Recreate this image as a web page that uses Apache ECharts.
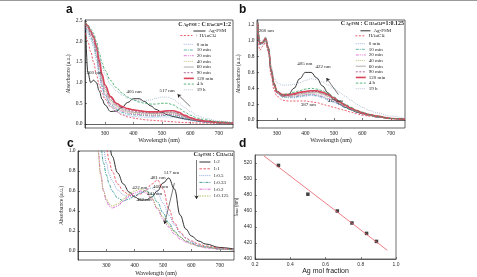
<!DOCTYPE html>
<html>
<head>
<meta charset="utf-8">
<script src="https://cdn.jsdelivr.net/npm/echarts@6/dist/echarts.min.js"></script>
<style>
html, body { margin: 0; background: #fff; }
#main { width: 477px; height: 277px; }
</style>
</head>
<body>
<div id="main"></div>
<script>
// wavelengths (nm) sampled for panels a and b
var wlAB = [232,240,250,260,270,280,290,300,320,340,360,380,400,420,440,460,480,500,520,540,560,580,600,625,650,700,750];

// panel a : C Ag-PSM : C HAuCl4 = 1:2
var aAgPSM  = [2.40,1.25,1.00,1.06,1.00,0.80,0.60,0.46,0.30,0.31,0.40,0.52,0.61,0.61,0.54,0.44,0.35,0.28,0.22,0.18,0.15,0.12,0.10,0.07,0.05,0.03,0.02];
var aHAuCl4 = [2.20,2.00,1.75,1.50,1.20,0.95,0.75,0.60,0.42,0.30,0.22,0.17,0.14,0.12,0.10,0.09,0.08,0.07,0.06,0.05,0.04,0.03,0.03,0.02,0.02,0.01,0.01];
var a0min   = [2.30,2.20,2.05,1.88,1.55,1.15,0.85,0.64,0.42,0.30,0.24,0.20,0.18,0.17,0.16,0.16,0.16,0.17,0.17,0.16,0.14,0.11,0.08,0.06,0.04,0.02,0.01];
var a10min  = [2.33,2.25,2.12,1.95,1.65,1.25,0.92,0.70,0.47,0.35,0.28,0.24,0.22,0.21,0.20,0.19,0.19,0.20,0.21,0.21,0.18,0.14,0.10,0.07,0.05,0.02,0.01];
var a20min  = [2.35,2.28,2.15,2.00,1.72,1.33,0.98,0.74,0.50,0.38,0.31,0.27,0.24,0.23,0.22,0.21,0.21,0.22,0.23,0.23,0.20,0.16,0.11,0.08,0.05,0.03,0.01];
var a40min  = [2.38,2.30,2.18,2.05,1.78,1.40,1.05,0.80,0.54,0.41,0.33,0.29,0.26,0.25,0.24,0.23,0.23,0.24,0.25,0.25,0.22,0.17,0.12,0.09,0.06,0.03,0.02];
var a60min  = [2.40,2.33,2.20,2.08,1.82,1.45,1.10,0.85,0.58,0.44,0.36,0.31,0.28,0.27,0.26,0.25,0.25,0.26,0.27,0.27,0.23,0.18,0.13,0.09,0.06,0.03,0.02];
var a90min  = [2.40,2.35,2.22,2.10,1.85,1.50,1.15,0.90,0.62,0.47,0.39,0.34,0.31,0.29,0.28,0.27,0.27,0.28,0.29,0.29,0.25,0.19,0.14,0.10,0.07,0.04,0.02];
var a120min = [2.45,2.38,2.25,2.12,1.90,1.55,1.20,0.95,0.66,0.50,0.42,0.37,0.34,0.32,0.30,0.29,0.29,0.30,0.32,0.32,0.28,0.21,0.15,0.10,0.07,0.04,0.02];
var a4h     = [2.45,2.40,2.30,2.20,2.00,1.72,1.48,1.30,1.05,0.88,0.75,0.65,0.58,0.53,0.50,0.48,0.48,0.50,0.50,0.46,0.38,0.29,0.21,0.14,0.10,0.05,0.02];
var a19h    = [2.40,2.35,2.25,2.15,1.95,1.65,1.40,1.20,0.95,0.80,0.70,0.63,0.58,0.56,0.56,0.58,0.62,0.65,0.65,0.60,0.50,0.40,0.30,0.20,0.14,0.07,0.03];

// panel b : C Ag-PSM : C HAuCl4 = 1:0.125
var bAgPSM  = [1.25,0.97,0.97,1.02,0.90,0.62,0.45,0.36,0.30,0.32,0.40,0.52,0.60,0.60,0.53,0.43,0.34,0.26,0.20,0.16,0.13,0.10,0.08,0.06,0.04,0.02,0.01];
var bHAuCl4 = [1.10,0.88,0.93,0.98,0.85,0.55,0.38,0.30,0.25,0.24,0.24,0.24,0.24,0.23,0.22,0.20,0.18,0.16,0.14,0.12,0.10,0.08,0.06,0.05,0.04,0.02,0.01];
var b0min   = [1.20,0.95,0.96,1.00,0.88,0.60,0.43,0.34,0.29,0.28,0.28,0.29,0.30,0.31,0.30,0.28,0.25,0.22,0.19,0.16,0.13,0.10,0.08,0.06,0.04,0.02,0.01];
var b10min  = [1.20,0.95,0.96,1.00,0.88,0.60,0.43,0.34,0.29,0.29,0.29,0.30,0.31,0.32,0.31,0.29,0.26,0.23,0.20,0.16,0.13,0.10,0.08,0.06,0.04,0.02,0.01];
var b20min  = [1.21,0.95,0.97,1.01,0.89,0.61,0.44,0.34,0.30,0.30,0.30,0.31,0.32,0.33,0.32,0.30,0.27,0.24,0.20,0.17,0.14,0.11,0.08,0.06,0.04,0.02,0.01];
var b40min  = [1.21,0.96,0.97,1.01,0.89,0.61,0.44,0.35,0.30,0.30,0.31,0.32,0.33,0.34,0.34,0.32,0.29,0.25,0.21,0.17,0.14,0.11,0.09,0.06,0.04,0.02,0.01];
var b60min  = [1.22,0.96,0.97,1.02,0.90,0.62,0.45,0.35,0.31,0.31,0.32,0.33,0.34,0.35,0.35,0.33,0.30,0.26,0.22,0.18,0.15,0.11,0.09,0.06,0.04,0.02,0.01];
var b90min  = [1.22,0.96,0.98,1.02,0.90,0.62,0.45,0.36,0.31,0.31,0.32,0.34,0.35,0.36,0.36,0.34,0.31,0.27,0.22,0.18,0.15,0.12,0.09,0.07,0.05,0.02,0.01];
var b120min = [1.23,0.97,0.98,1.03,0.91,0.63,0.46,0.36,0.32,0.32,0.33,0.35,0.36,0.37,0.37,0.35,0.32,0.28,0.23,0.19,0.15,0.12,0.09,0.07,0.05,0.02,0.01];
var b4h     = [1.23,0.97,0.98,1.03,0.91,0.63,0.46,0.37,0.32,0.33,0.35,0.37,0.39,0.40,0.39,0.37,0.33,0.29,0.24,0.20,0.16,0.12,0.10,0.07,0.05,0.02,0.01];
var b19h    = [1.25,1.00,1.00,1.05,0.92,0.68,0.53,0.47,0.44,0.44,0.45,0.47,0.50,0.52,0.51,0.48,0.44,0.40,0.35,0.30,0.25,0.20,0.16,0.12,0.09,0.05,0.02];

// panel c : different Ag-PSM : HAuCl4 ratios
var wlC = [260,270,280,290,300,310,320,340,360,380,400,420,440,460,480,500,520,540,560,580,600,625,650,700,750];
var c1to2     = [2.30,2.00,1.72,1.48,1.27,1.08,0.95,0.78,0.67,0.59,0.54,0.51,0.51,0.54,0.60,0.68,0.73,0.62,0.36,0.22,0.15,0.10,0.07,0.035,0.02];
var c1to1     = [2.00,1.70,1.42,1.20,1.03,0.90,0.80,0.67,0.60,0.56,0.55,0.57,0.61,0.67,0.71,0.62,0.42,0.28,0.19,0.13,0.10,0.07,0.05,0.03,0.01];
var c1to05    = [1.80,1.50,1.22,1.02,0.88,0.77,0.70,0.61,0.56,0.54,0.55,0.58,0.61,0.63,0.59,0.48,0.36,0.26,0.18,0.13,0.09,0.06,0.04,0.02,0.01];
var c1to033   = [1.60,1.30,1.05,0.88,0.76,0.67,0.60,0.53,0.50,0.52,0.55,0.58,0.60,0.57,0.49,0.38,0.28,0.20,0.14,0.10,0.08,0.05,0.04,0.02,0.01];
var c1to02    = [1.35,1.05,0.78,0.60,0.50,0.45,0.43,0.45,0.50,0.55,0.58,0.60,0.58,0.52,0.42,0.32,0.24,0.17,0.12,0.09,0.07,0.05,0.03,0.02,0.01];
var c1to0125  = [1.30,1.00,0.75,0.60,0.52,0.47,0.45,0.47,0.52,0.57,0.60,0.62,0.60,0.53,0.43,0.34,0.26,0.19,0.14,0.10,0.07,0.05,0.04,0.02,0.01];

// panel d : peak position vs Ag mol fraction
var dFraction = [0.333,0.5,0.667,0.75,0.833,0.889];
var dLambda   = [517,481,460,445,432,422];
var dFitX = [0.25,0.95];
var dFitY = [529,411];

// peak labels [text, wavelength, absorbance]
var peaksA = [['260 nm',262,1.25],['405 nm',402,0.78],['517 nm',518,0.81]];
var peaksB = [['260 nm',263,1.13],['405 nm',398,0.71],['422 nm',462,0.67],['387 nm',410,0.19],['477 nm',505,0.24]];
var peaksC = [['517 nm',530,0.78],['481 nm',482,0.73],['422 nm',418,0.63],['460 nm',491,0.64],['441 nm',470,0.57],['432 nm',433,0.51]];

var timeNames = ['0 min','10 min','20 min','40 min','60 min','90 min','120 min','4 h','19 h'];
var ratioNames = ['1:2','1:1','1:0.5','1:0.33','1:0.2','1:0.125'];

var serif = 'Liberation Serif';
var sans = 'Liberation Sans';

var lineStyles = {
    'Ag-PSM':  {color:'#1b1b1b', width:0.9, type:'solid'},
    '+HAuCl4': {color:'#e5364a', width:0.8, type:[2,1.5]},
    'HAuCl4':  {color:'#e5364a', width:0.8, type:[2,1.5]},
    '0 min':   {color:'#5a78d4', width:0.7, type:[0.8,1.2]},
    '10 min':  {color:'#1f9a86', width:0.7, type:[3,1,1,1]},
    '20 min':  {color:'#d446c6', width:0.7, type:[3,1,1,1,1,1]},
    '40 min':  {color:'#a6ae48', width:0.7, type:[1,1]},
    '60 min':  {color:'#9a9a9a', width:0.8, type:'solid'},
    '90 min':  {color:'#9a3c7e', width:0.8, type:[2,1.5]},
    '120 min': {color:'#d8455a', width:1.6, type:'solid'},
    '4 h':     {color:'#2fa35d', width:0.8, type:[2.5,1.5]},
    '19 h':    {color:'#8ea2bb', width:0.8, type:[0.8,1.2]},
    '1:2':     {color:'#1b1b1b', width:0.9, type:'solid'},
    '1:1':     {color:'#e5364a', width:0.8, type:[2.5,1.5]},
    '1:0.5':   {color:'#5a78d4', width:0.8, type:[0.8,1.2]},
    '1:0.33':  {color:'#1a8a8a', width:0.8, type:[3,1,1,1]},
    '1:0.2':   {color:'#d446c6', width:0.8, type:[3,1,1,1,1,1]},
    '1:0.125': {color:'#a6ae48', width:0.8, type:[1.5,1]}
};

function spectrum(name, wl, values, g) {
    return {
        type: 'line',
        name: name,
        xAxisIndex: g,
        yAxisIndex: g,
        data: wl.map(function (w, i) { return [w, values[i]]; }),
        symbol: 'none',
        smooth: 0.4,
        smoothMonotone: 'x',
        silent: true,
        lineStyle: lineStyles[name]
    };
}

function arrow(g, from, to) {
    return {
        silent: true,
        symbol: ['none', 'arrow'],
        symbolSize: 3.5,
        label: {show: false},
        lineStyle: {color: '#222', width: 0.6, type: 'solid'},
        data: [[{coord: from}, {coord: to}]]
    };
}

function xAxisFor(g, min, max, ticks, nameGap) {
    return {
        gridIndex: g, type: 'value', min: min, max: max,
        name: 'Wavelength (nm)', nameLocation: 'middle', nameGap: nameGap,
        nameTextStyle: {fontFamily: serif, fontSize: 6, color: '#222'},
        axisLine: {show: true, lineStyle: {color: '#222', width: 0.7}},
        axisTick: {show: true, inside: true, length: 2, customValues: ticks, lineStyle: {color: '#222', width: 0.6}},
        axisLabel: {fontFamily: serif, fontSize: 5.5, color: '#222', margin: 2.5, customValues: ticks},
        splitLine: {show: false}
    };
}

function yAxisFor(g, min, max, ticks, nameGap) {
    return {
        gridIndex: g, type: 'value', min: min, max: max,
        name: 'Absorbance (a.u.)', nameLocation: 'middle', nameGap: nameGap,
        nameTextStyle: {fontFamily: serif, fontSize: 5.5, color: '#222'},
        axisLine: {show: true, lineStyle: {color: '#222', width: 0.7}},
        axisTick: {show: true, inside: true, length: 2, customValues: ticks, lineStyle: {color: '#222', width: 0.6}},
        axisLabel: {fontFamily: serif, fontSize: 5.5, color: '#222', margin: 2.5, customValues: ticks,
            formatter: function (v) { return v.toFixed(1); }},
        splitLine: {show: false}
    };
}

var subRich = {
    t: {fontFamily: serif, fontSize: 5, color: '#222'},
    s: {fontFamily: serif, fontSize: 3.4, color: '#222', verticalAlign: 'bottom'}
};

function legendFor(names, left, top, pitch, iconWidth) {
    return {
        data: names.map(function (n) {
            return {name: n, lineStyle: {width: lineStyles[n].width}};
        }),
        orient: 'vertical', left: left, top: top, padding: 0,
        itemWidth: iconWidth, itemHeight: 2, itemGap: 0, selectedMode: false,
        itemStyle: {opacity: 0},
        lineStyle: {width: 0.8},
        textStyle: {fontFamily: serif, fontSize: 5, color: '#222', lineHeight: pitch, padding: [0, 0, 0, -2], rich: subRich},
        formatter: function (n) {
            if (n === 'HAuCl4') return '{t|HAuCl}{s|4}';
            if (n === '+HAuCl4') return '{t|+ HAuCl}{s|4}';
            return n;
        }
    };
}

var headRich = {
    c: {fontFamily: serif, fontSize: 6, color: '#222'},
    s: {fontFamily: serif, fontSize: 3.6, color: '#222', verticalAlign: 'bottom'}
};

var letterStyle = {fontFamily: sans, fontWeight: 'bold', fontSize: 12, color: '#111'};

var chart = echarts.init(document.getElementById('main'));

var series = [];
var aSets = [['Ag-PSM',aAgPSM],['+HAuCl4',aHAuCl4],['0 min',a0min],['10 min',a10min],['20 min',a20min],['40 min',a40min],
             ['60 min',a60min],['90 min',a90min],['120 min',a120min],['4 h',a4h],['19 h',a19h]];
var bSets = [['Ag-PSM',bAgPSM],['HAuCl4',bHAuCl4],['0 min',b0min],['10 min',b10min],['20 min',b20min],['40 min',b40min],
             ['60 min',b60min],['90 min',b90min],['120 min',b120min],['4 h',b4h],['19 h',b19h]];
var cSets = [['1:2',c1to2],['1:1',c1to1],['1:0.5',c1to05],['1:0.33',c1to033],['1:0.2',c1to02],['1:0.125',c1to0125]];

aSets.forEach(function (s) { series.push(spectrum(s[0], wlAB, s[1], 0)); });
bSets.forEach(function (s) { series.push(spectrum(s[0], wlAB, s[1], 1)); });
cSets.forEach(function (s) { series.push(spectrum(s[0], wlC, s[1], 2)); });

series[0].markLine = arrow(0, [600, 0.42], [555, 0.72]);
series[11].markLine = arrow(1, [516, 0.32], [474, 0.53]);
series[22].markLine = arrow(2, [540, 0.68], [505, 0.27]);
series[22].markLine.data.push([{coord: [618, 0.91]}, {coord: [618, 0.52]}]);

series.push({
    type: 'line', name: 'fit', xAxisIndex: 3, yAxisIndex: 3, silent: true,
    data: dFitX.map(function (x, i) { return [x, dFitY[i]]; }),
    symbol: 'none', lineStyle: {color: '#e8606a', width: 0.8}
});
series.push({
    type: 'scatter', name: 'peak', xAxisIndex: 3, yAxisIndex: 3, silent: true,
    data: dFraction.map(function (x, i) { return [x, dLambda[i]]; }),
    symbol: 'rect', symbolSize: 3.5, itemStyle: {color: '#111'}
});

var option = {
    animation: false,
    backgroundColor: '#fff',
    title: [
        {text: 'a', left: 66, top: 4, padding: 0, textStyle: letterStyle},
        {text: 'b', left: 239, top: 4, padding: 0, textStyle: letterStyle},
        {text: 'c', left: 67, top: 138, padding: 0, textStyle: letterStyle},
        {text: 'd', left: 239, top: 138, padding: 0, textStyle: letterStyle},
        {text: '{c|C}{s| Ag-PSM}{c| : C}{s| HAuCl4}{c|=1:2}', right: 246, top: 21, padding: 0, textStyle: {rich: headRich}},
        {text: '{c|C}{s| Ag-PSM}{c| : C}{s| HAuCl4}{c|=1:0.125}', right: 73, top: 20, padding: 0, textStyle: {rich: headRich}},
        {text: '{c|C}{s|Ag-PSM}{c| : C}{s|HAuCl4}', right: 244, top: 151, padding: 0, textStyle: {rich: headRich}}
    ],
    legend: [
        legendFor(['Ag-PSM'], 193, 28.5, 4.6, 12),
        legendFor(['+HAuCl4'], 180, 33, 4.6, 12),
        legendFor(timeNames, 183, 41.5, 5.675, 10),
        legendFor(['Ag-PSM'], 360, 28.3, 4.6, 10),
        legendFor(['HAuCl4'], 355, 33.3, 4.6, 10),
        legendFor(timeNames, 355, 40.9, 5.625, 10),
        legendFor(ratioNames, 199, 158.6, 6.8, 11)
    ],
    grid: [
        {left: 85, top: 20, width: 148, height: 108, show: true, borderColor: '#222', borderWidth: 0.7},
        {left: 257, top: 20, width: 148, height: 108, show: true, borderColor: '#222', borderWidth: 0.7},
        {left: 78, top: 151, width: 156, height: 110, show: true, borderColor: '#222', borderWidth: 0.7},
        {left: 255, top: 155, width: 141, height: 104, show: true, borderColor: '#333', borderWidth: 0.7}
    ],
    xAxis: [
        xAxisFor(0, 230, 750, [300,400,500,600,700], 8),
        xAxisFor(1, 230, 750, [300,400,500,600,700], 8),
        xAxisFor(2, 200, 750, [300,400,500,600,700], 10),
        {
            gridIndex: 3, type: 'value', min: 0.2, max: 1.0,
            name: 'Ag mol fraction', nameLocation: 'middle', nameGap: 8,
            nameTextStyle: {fontFamily: sans, fontSize: 7, color: '#222'},
            axisLine: {show: true, lineStyle: {color: '#333', width: 0.7}},
            axisTick: {show: true, inside: true, length: 2, customValues: [0.2,0.4,0.6,0.8,1.0], lineStyle: {color: '#333', width: 0.6}},
            axisLabel: {fontFamily: sans, fontSize: 5, color: '#333', margin: 3, customValues: [0.2,0.4,0.6,0.8,1.0],
                formatter: function (v) { return v.toFixed(1); }},
            splitLine: {show: false}
        }
    ],
    yAxis: [
        yAxisFor(0, -0.1, 2.52, [0,0.5,1,1.5,2,2.5], 13),
        yAxisFor(1, -0.1, 1.26, [0,0.2,0.4,0.6,0.8,1.0,1.2], 15),
        yAxisFor(2, -0.09, 1.0, [0,0.2,0.4,0.6,0.8,1.0], 13),
        {
            gridIndex: 3, type: 'value', min: 400, max: 530,
            name: '{t|λ}{s|max}{t| (nm)}', nameLocation: 'middle', nameGap: 14,
            nameTextStyle: {rich: {t: {fontFamily: sans, fontSize: 4.5, color: '#333'}, s: {fontFamily: sans, fontSize: 3, color: '#333'}}},
            axisLine: {show: true, lineStyle: {color: '#333', width: 0.7}},
            axisTick: {show: true, inside: true, length: 2, customValues: [400,420,440,460,480,500,520], lineStyle: {color: '#333', width: 0.6}},
            axisLabel: {fontFamily: sans, fontSize: 5, color: '#333', margin: 3, customValues: [400,420,440,460,480,500,520]},
            splitLine: {show: false}
        }
    ],
    series: series
};

chart.setOption(option);

// peak labels placed through each panel's own scales
var graphics = [{type: 'line', shape: {x1: 0, y1: 0.5, x2: 477, y2: 0.5}, style: {stroke: '#999', lineWidth: 1}, silent: true}];
[[peaksA, 0], [peaksB, 1], [peaksC, 2]].forEach(function (set) {
    set[0].forEach(function (p) {
        var pos = chart.convertToPixel({gridIndex: set[1]}, [p[1], p[2]]);
        graphics.push({
            type: 'text', x: pos[0], y: pos[1], silent: true, z: 50,
            style: {text: p[0], fill: '#222', font: '5px "' + serif + '"', align: 'center', verticalAlign: 'middle'}
        });
    });
});
chart.setOption({graphic: graphics});
</script>
</body>
</html>
